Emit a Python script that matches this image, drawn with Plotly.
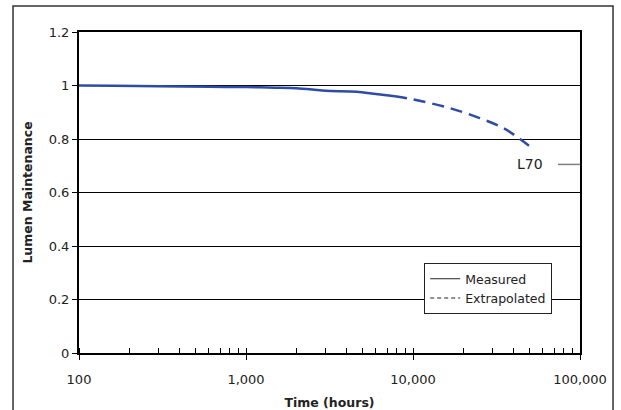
import plotly.graph_objects as go

# Data
measured_hours = [100, 160, 300, 600, 1000, 1500, 2000, 2500, 3000, 4600, 6000, 7800]
measured_lm = [1.0, 0.999, 0.997, 0.995, 0.994, 0.992, 0.99, 0.985, 0.98, 0.977, 0.968, 0.96]
extrap_hours = [7800, 10000, 16300, 25100, 35000, 43700, 49500]
extrap_lm = [0.96, 0.948, 0.917, 0.878, 0.84, 0.80, 0.775]
l70_hours = [73800, 100000]
l70_lm = [0.705, 0.705]
x_tickvals = [100, 1000, 10000, 100000]
x_ticktext = ["100", "1,000", "10,000", "100,000"]
y_tickvals = [0, 0.2, 0.4, 0.6, 0.8, 1.0, 1.2]
y_ticktext = ["0", "0.2", "0.4", "0.6", "0.8", "1", "1.2"]
minor_vals = [m * d for d in (100, 1000, 10000) for m in range(1, 10)] + [100000]

BLUE = "#2d4da5"
FONT = "DejaVu Sans"

fig = go.Figure()
fig.add_trace(go.Scatter(x=measured_hours, y=measured_lm, mode="lines",
                         line=dict(color=BLUE, width=2.5, shape="spline", smoothing=0.8),
                         showlegend=False))
fig.add_trace(go.Scatter(x=extrap_hours, y=extrap_lm, mode="lines",
                         line=dict(color=BLUE, width=2.5, dash="12px,7px", shape="spline"),
                         showlegend=False))
fig.add_trace(go.Scatter(x=l70_hours, y=l70_lm, mode="lines",
                         line=dict(color="#808080", width=1.5), showlegend=False))
# legend entries (black, as in the reference)
fig.add_trace(go.Scatter(x=[None], y=[None], mode="lines", name="Measured",
                         line=dict(color="#222222", width=1)))
fig.add_trace(go.Scatter(x=[None], y=[None], mode="lines", name="Extrapolated",
                         line=dict(color="#222222", width=1, dash="4px,3px")))

fig.add_annotation(x=4.70, y=0.705, xref="x", yref="y", text="L70", showarrow=False,
                   font=dict(family=FONT, size=14, color="#222222"))

# outer frame
fig.add_shape(type="rect", xref="paper", yref="paper", x0=-0.1317, x1=1.0659,
              y0=-0.3, y1=1.081, line=dict(color="#333333", width=1.5), layer="above")

fig.update_layout(
    width=621, height=410,
    margin=dict(l=79, r=41, t=32, b=57),
    paper_bgcolor="white", plot_bgcolor="white",
    font=dict(family=FONT, size=13, color="#222222"),
    legend=dict(x=0.689, y=0.280, xanchor="left", yanchor="top",
                bgcolor="white", bordercolor="#222222", borderwidth=1,
                font=dict(family=FONT, size=12.5, color="#222222"),
                tracegroupgap=0, itemwidth=30),
    xaxis=dict(type="log", range=[2, 5], tickvals=x_tickvals, ticktext=x_ticktext,
               automargin=False,
               ticks="outside", ticklen=5, tickcolor="black", tickwidth=1,
               showline=True, linecolor="black", linewidth=2, mirror=True,
               showgrid=False, zeroline=False, ticklabelstandoff=8,
               minor=dict(tickvals=minor_vals, ticks="inside", ticklen=5,
                          tickcolor="black", tickwidth=1, showgrid=False),
               title=dict(text="<b>Time (hours)</b>", font=dict(family=FONT, size=12.5),
                          standoff=14),
               tickfont=dict(family=FONT, size=13)),
    yaxis=dict(range=[0, 1.2], tickvals=y_tickvals, ticktext=y_ticktext,
               automargin=False,
               ticks="outside", ticklen=5, tickcolor="black", tickwidth=1,
               showline=True, linecolor="black", linewidth=2, mirror=True,
               showgrid=True, gridcolor="black", gridwidth=1, zeroline=False,
               title=dict(text="<b>Lumen Maintenance</b>", font=dict(family=FONT, size=12.5),
                          standoff=13),
               tickfont=dict(family=FONT, size=13)),
)

fig.write_html("out.html", config={"displayModeBar": False},
               post_script="document.body.style.margin='0';document.body.style.overflow='hidden';")
